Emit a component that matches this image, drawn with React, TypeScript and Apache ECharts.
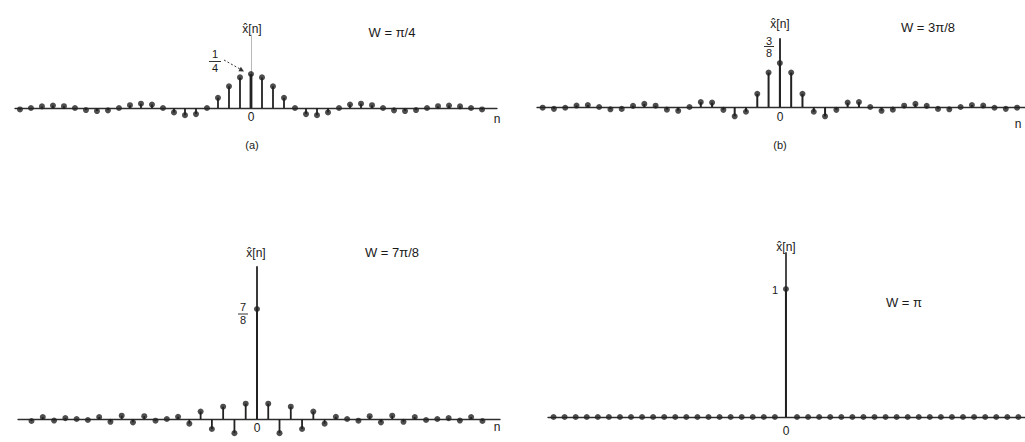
import React, { useEffect, useRef } from "react";
import * as echarts from "echarts";

// sample indices
const nA = [-21,-20,-19,-18,-17,-16,-15,-14,-13,-12,-11,-10,-9,-8,-7,-6,-5,-4,-3,-2,-1,0,1,2,3,4,5,6,7,8,9,10,11,12,13,14,15,16,17,18,19,20,21];
const nC = [-20,-19,-18,-17,-16,-15,-14,-13,-12,-11,-10,-9,-8,-7,-6,-5,-4,-3,-2,-1,0,1,2,3,4,5,6,7,8,9,10,11,12,13,14,15,16,17,18,19,20];

// (a) W = pi/4
const valuesA = [-0.0107,0,0.0118,0.0177,0.0132,0,-0.015,-0.0227,-0.0173,0,0.0205,0.0318,0.025,0,-0.0322,-0.0531,-0.045,0,0.075,0.1592,0.2251,0.25,0.2251,0.1592,0.075,0,-0.045,-0.0531,-0.0322,0,0.025,0.0318,0.0205,0,-0.0173,-0.0227,-0.015,0,0.0132,0.0177,0.0118,0,-0.0107];
// (b) W = 3pi/8
const valuesB = [-0.0058,-0.0159,-0.0064,0.0125,0.0173,0,-0.0196,-0.0161,0.0094,0.0265,0.0111,-0.0225,-0.0327,0,0.042,0.0375,-0.0244,-0.0796,-0.0406,0.1125,0.2941,0.375,0.2941,0.1125,-0.0406,-0.0796,-0.0244,0.0375,0.042,0,-0.0327,-0.0225,0.0111,0.0265,0.0094,-0.0161,-0.0196,0,0.0173,0.0125,-0.0064,-0.0159,-0.0058];
// (c) W = 7pi/8
const valuesC = [-0.0159,0.0155,-0.0125,0.0072,0,-0.0081,0.0161,-0.0226,0.0265,-0.0267,0.0225,-0.0135,0,0.0174,-0.0375,0.0588,-0.0796,0.098,-0.1125,0.1218,0.875,0.1218,-0.1125,0.098,-0.0796,0.0588,-0.0375,0.0174,0,-0.0135,0.0225,-0.0267,0.0265,-0.0226,0.0161,-0.0081,0,0.0072,-0.0125,0.0155,-0.0159];
// (d) W = pi
const valuesD = [0,0,0,0,0,0,0,0,0,0,0,0,0,0,0,0,0,0,0,0,0,1,0,0,0,0,0,0,0,0,0,0,0,0,0,0,0,0,0,0,0,0,0];

const panelLabels = ["W = π/4", "W = 3π/8", "W = 7π/8", "W = π"];
const captions = ["(a)", "(b)"];

const INK = "#222222";

export default function App() {
  const ref = useRef<HTMLDivElement>(null);

  useEffect(() => {
    document.body.style.margin = "0";
    const chart = echarts.init(ref.current!, null, { renderer: "svg" });

    const panels = [
      { n: nA, v: valuesA, grid: { left: 15, top: 35, width: 482, height: 73 }, xmin: -21.45, xmax: 22.36, ymax: 0.537, stemW: 1.8, zeroW: 2.8, yColor: "#b8b8b8", yW: 1 },
      { n: nA, v: valuesB, grid: { left: 537, top: 39, width: 488, height: 68 }, xmin: -21.5, xmax: 21.7, ymax: 0.581, stemW: 2, zeroW: 2, yColor: "#1e1e1e", yW: 1.8 },
      { n: nC, v: valuesC, grid: { left: 18, top: 267, width: 482, height: 152 }, xmin: -21.2, xmax: 21.56, ymax: 1.209, stemW: 1.8, zeroW: 2, yColor: "#3a3a3a", yW: 2 },
      { n: nA, v: valuesD, grid: { left: 548, top: 253, width: 477, height: 164 }, xmin: -21.5, xmax: 21.6, ymax: 1.281, stemW: 1.8, zeroW: 2, yColor: "#4a4a4a", yW: 2 },
    ];

    const grids: any[] = [];
    const xAxes: any[] = [];
    const yAxes: any[] = [];
    const series: any[] = [];

    panels.forEach((p, i) => {
      grids.push({ ...p.grid, containLabel: false });
      xAxes.push({
        type: "value", gridIndex: i, min: p.xmin, max: p.xmax,
        axisLine: { show: true, onZero: false, lineStyle: { color: "#2e2e2e", width: 1.3 } },
        axisTick: { show: false }, axisLabel: { show: false }, splitLine: { show: false },
      });
      yAxes.push({
        type: "value", gridIndex: i, min: 0, max: p.ymax,
        axisLine: { show: true, onZero: true, lineStyle: { color: p.yColor, width: p.yW } },
        axisTick: { show: false }, axisLabel: { show: false }, splitLine: { show: false },
      });
      const data = p.n.map((n, k) => [n, p.v[k]]);
      series.push({
        type: "custom", xAxisIndex: i, yAxisIndex: i, clip: false, silent: true,
        encode: { x: 0, y: 1 },
        data,
        renderItem: (params: any, api: any) => {
          const x = api.value(0);
          const y = api.value(1);
          const p0 = api.coord([x, 0]);
          const p1 = api.coord([x, y]);
          return {
            type: "line",
            shape: { x1: p0[0], y1: p0[1], x2: p1[0], y2: p1[1] },
            style: { stroke: INK, lineWidth: x === 0 ? p.zeroW : p.stemW },
          };
        },
      });
      series.push({
        type: "scatter", xAxisIndex: i, yAxisIndex: i, clip: false, silent: true,
        symbol: "circle", symbolSize: 6,
        itemStyle: { color: INK },
        data,
      });
    });

    const font = (s: number) => `${s}px "Liberation Sans", Arial, sans-serif`;
    const txt = (text: string, x: number, y: number, size = 12, align = "center") => ({
      type: "text", x, y, silent: true,
      style: { text, font: font(size), fill: "#1a1a1a", align, verticalAlign: "middle", textAlign: align, textVerticalAlign: "middle" },
    });
    const ln = (x1: number, y1: number, x2: number, y2: number, w = 1, dash?: number[]) => ({
      type: "line", silent: true,
      shape: { x1, y1, x2, y2 },
      style: { stroke: "#333", lineWidth: w, lineDash: dash },
    });

    const graphic: any[] = [
      // (a)
      txt("x\u0302[n]", 252, 29, 12),
      txt("1", 215, 54, 11), ln(209, 61.5, 221, 61.5, 1), txt("4", 215, 68, 11),
      ln(224, 60, 240, 69, 1, [2, 2]),
      { type: "polygon", silent: true, shape: { points: [[244, 71.5], [238.4, 71.2], [240.9, 66.8]] }, style: { fill: "#333" } },
      txt(panelLabels[0], 392, 32, 13),
      txt("0", 251, 117, 12),
      txt("n", 497, 119, 12),
      txt(captions[0], 252, 145, 11),
      // (b)
      txt("x\u0302[n]", 780, 24, 12),
      txt("3", 769, 41, 11), ln(764, 46.5, 774, 46.5, 1), txt("8", 769, 53, 11),
      txt(panelLabels[1], 928, 27, 13),
      txt("0", 780, 117, 12),
      txt("n", 1018, 124, 12),
      txt(captions[1], 780, 145, 11),
      // (c)
      txt("x\u0302[n]", 256, 253, 12),
      txt("7", 243, 307, 11), ln(238, 314, 248, 314, 1), txt("8", 243, 320, 11),
      txt(panelLabels[2], 392, 252, 13),
      txt("0", 257, 428, 12),
      txt("n", 497, 427, 12),
      // (d)
      txt("x\u0302[n]", 786, 247, 12),
      txt("1", 775, 290, 11),
      txt(panelLabels[3], 904, 302, 13),
      txt("0", 786, 431, 12),
    ];

    chart.setOption({
      animation: false,
      backgroundColor: "#ffffff",
      grid: grids,
      xAxis: xAxes,
      yAxis: yAxes,
      series,
      graphic,
    });

    return () => chart.dispose();
  }, []);

  return <div ref={ref} style={{ width: 1025, height: 442 }} />;
}
